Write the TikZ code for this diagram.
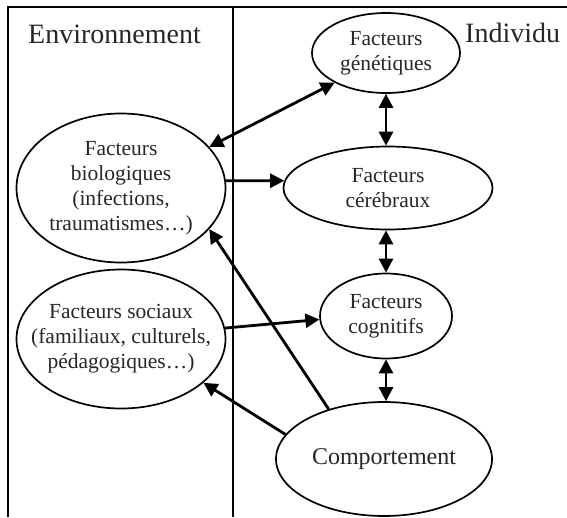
\documentclass[tikz,border=0pt]{standalone}
\usepackage{fontspec}
\setmainfont{Liberation Serif}
\usetikzlibrary{shapes.geometric,arrows.meta}
\tikzset{
  fac/.style={ellipse, draw, line width=1.7pt, inner sep=0pt},
  lab/.style={align=center, inner sep=0pt, font=\fontsize{21.5}{25}\selectfont, text=black!85},
  frame/.style={line width=2pt},
  tip/.tip={Triangle[length=14pt,width=14pt]},
  arr/.style={line width=2.8pt, -tip},
  darr/.style={line width=2.8pt, tip-tip},
  head/.style={anchor=base west, inner sep=0pt, font=\fontsize{28}{30}\selectfont, text=black!85}
}
\begin{document}
\begin{tikzpicture}[x=1pt,y=-1pt]
\useasboundingbox (0,0) rectangle (567,517);
% frame
\coordinate (tl) at (8,7);
\coordinate (tr) at (567,7);
\coordinate (bl) at (8,517);
\coordinate (dt) at (233,7);
\coordinate (db) at (233,517);
\draw[frame] (bl) -- (tl) -- (tr);
\draw[frame] (dt) -- (db);
% headers
\node[head] (env) at (28,43) {Environnement};
\node[head] (ind) at (465,42) {Individu};
% ellipses
\node[fac, minimum width=148pt, minimum height=80pt, label={[lab]center:{Facteurs\\génétiques}}] (gen) at (386,53) {};
\node[fac, minimum width=209pt, minimum height=149pt, label={[lab]center:{Facteurs\\biologiques\\(infections,\\traumatismes…)}}] (bio) at (121,188) {};
\node[fac, minimum width=209pt, minimum height=83pt, label={[lab]center:{Facteurs\\cérébraux}}] (cer) at (388,188) {};
\node[fac, minimum width=209pt, minimum height=139pt, label={[lab]center:{Facteurs sociaux\\(familiaux, culturels,\\pédagogiques…)}}] (soc) at (121,339) {};
\node[fac, minimum width=132pt, minimum height=85pt, label={[lab]center:{Facteurs\\cognitifs}}] (cog) at (386,316) {};
\node[fac, minimum width=216pt, minimum height=114pt, label={[lab, font=\fontsize{24}{28}\selectfont]center:{Comportement}}] (comp) at (384,459) {};
% connectors
\draw[darr] (bio.25) -- (gen.210);
\draw[arr] (bio.4) -- (cer.176);
\draw[darr] (gen.south) -- (gen.south |- cer.north);
\draw[darr] (cog.north |- cer.south) -- (cog.north);
\draw[darr] (cog.south) -- (cog.south |- comp.north);
\draw[arr] (soc.6) -- (cog.183);
\draw[arr] (comp.138) -- (bio.335);
\draw[arr] (comp.166) -- (soc.332);
\end{tikzpicture}
\end{document}
